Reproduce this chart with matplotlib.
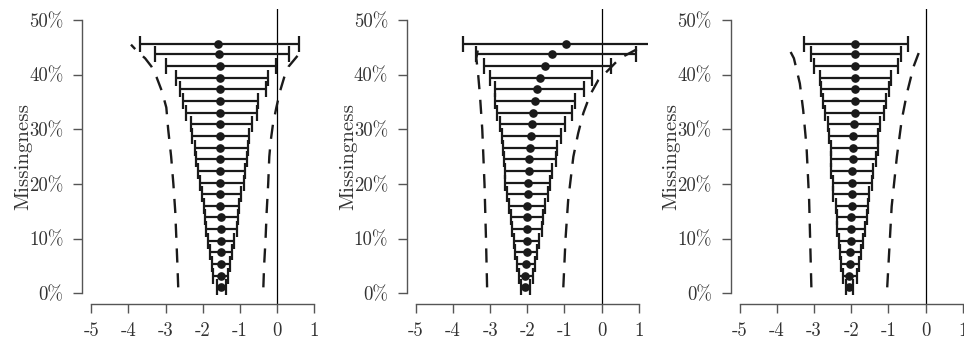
import matplotlib
matplotlib.use('Agg')
import matplotlib.pyplot as plt

plt.rcParams['font.family'] = 'serif'
plt.rcParams['font.serif'] = ['cmr10', 'DejaVu Serif']

# missingness level of each row (%)
rows_y = [45.6, 43.7, 41.6, 39.45, 37.3, 35.2, 33.0, 30.9, 28.8, 26.6, 24.5,
          22.4, 20.2, 18.2, 16.0, 13.9, 11.8, 9.6, 7.5, 5.4, 3.2, 1.1]

# panel 1
est_1 = [-1.58, -1.55, -1.53, -1.53, -1.53, -1.53, -1.53, -1.53, -1.53, -1.53, -1.53,
         -1.53, -1.53, -1.53, -1.53, -1.51, -1.51, -1.51, -1.51, -1.50, -1.50, -1.50]
lo_1 = [-3.70, -3.29, -3.00, -2.72, -2.62, -2.53, -2.46, -2.32, -2.28, -2.21, -2.17,
        -2.12, -2.08, -2.03, -1.97, -1.94, -1.92, -1.85, -1.81, -1.76, -1.72, -1.61]
hi_1 = [0.58, 0.31, -0.03, -0.25, -0.31, -0.52, -0.55, -0.67, -0.76, -0.77, -0.82,
        -0.86, -0.88, -0.97, -1.02, -1.04, -1.09, -1.15, -1.21, -1.27, -1.31, -1.38]
band_lo_y_1 = [1.1, 5, 10, 15, 20, 25, 30, 34, 37, 39.5, 41.5, 43, 44.2, 45.5]
band_lo_x_1 = [-2.66, -2.68, -2.71, -2.74, -2.79, -2.85, -2.93, -2.98, -3.10, -3.24, -3.38, -3.55, -3.75, -3.93]
band_hi_y_1 = [1.1, 5, 10, 15, 20, 25, 28, 31, 34, 37, 39.5, 41.5, 43.3, 44.3]
band_hi_x_1 = [-0.37, -0.35, -0.31, -0.28, -0.24, -0.21, -0.17, -0.11, -0.02, 0.08, 0.19, 0.31, 0.53, 0.67]

# panel 2
est_2 = [-0.96, -1.33, -1.53, -1.67, -1.75, -1.80, -1.84, -1.86, -1.91, -1.92, -1.94,
         -1.96, -1.97, -1.99, -2.00, -2.01, -2.01, -2.01, -2.02, -2.03, -2.05, -2.06]
lo_2 = [-3.73, -3.37, -3.17, -2.99, -2.88, -2.86, -2.81, -2.74, -2.68, -2.65, -2.63,
        -2.61, -2.59, -2.54, -2.50, -2.45, -2.41, -2.36, -2.32, -2.28, -2.23, -2.17]
hi_2 = [1.80, 0.93, 0.24, -0.27, -0.47, -0.72, -0.79, -0.99, -1.10, -1.19, -1.24,
        -1.34, -1.39, -1.43, -1.52, -1.57, -1.59, -1.68, -1.74, -1.80, -1.84, -1.93]
band_lo_y_2 = [1.1, 10, 20, 30, 36, 40, 43, 44.5]
band_lo_x_2 = [-3.08, -3.11, -3.15, -3.21, -3.27, -3.32, -3.37, -3.33]
band_hi_y_2 = [1.1, 10, 17, 25, 29.3, 33, 36.3, 39, 40.5, 43, 44.8]
band_hi_x_2 = [-1.03, -0.97, -0.90, -0.76, -0.63, -0.49, -0.31, -0.09, 0.13, 0.49, 0.99]

# panel 3
est_3 = [-1.90, -1.90, -1.90, -1.90, -1.90, -1.90, -1.90, -1.92, -1.94, -1.95, -1.95,
         -1.97, -1.97, -1.97, -1.99, -2.00, -2.01, -2.01, -2.02, -2.03, -2.05, -2.06]
lo_3 = [-3.26, -3.09, -2.99, -2.84, -2.80, -2.75, -2.71, -2.62, -2.60, -2.55, -2.54,
        -2.53, -2.50, -2.48, -2.42, -2.39, -2.37, -2.32, -2.30, -2.27, -2.23, -2.15]
hi_3 = [-0.46, -0.67, -0.75, -0.93, -0.98, -1.07, -1.11, -1.22, -1.29, -1.29, -1.33,
        -1.40, -1.45, -1.52, -1.56, -1.58, -1.63, -1.69, -1.74, -1.79, -1.83, -1.94]
band_lo_y_3 = [1.1, 17, 26.8, 33.5, 38.4, 43, 45.1]
band_lo_x_3 = [-3.07, -3.13, -3.20, -3.29, -3.38, -3.54, -3.70]
band_hi_y_3 = [1.1, 15.9, 25, 31.7, 36.6, 41.5, 45.1]
band_hi_x_3 = [-1.03, -0.91, -0.77, -0.64, -0.50, -0.32, -0.12]

x_ticks = [-5, -4, -3, -2, -1, 0, 1]
x_labels = ['-5', '-4', '-3', '-2', '-1', '0', '1']
y_ticks = [0, 10, 20, 30, 40, 50]
y_labels = ['0%', '10%', '20%', '30%', '40%', '50%']

panels = [
    (est_1, lo_1, hi_1, band_lo_y_1, band_lo_x_1, band_hi_y_1, band_hi_x_1),
    (est_2, lo_2, hi_2, band_lo_y_2, band_lo_x_2, band_hi_y_2, band_hi_x_2),
    (est_3, lo_3, hi_3, band_lo_y_3, band_lo_x_3, band_hi_y_3, band_hi_x_3),
]

W, H = 964, 343
fig = plt.figure(figsize=(W / 100, H / 100), dpi=100)
lefts = [82.3, 406.8, 730.7]
axis_col = '#555555'
text_col = '#333333'

for left, (est, lo, hi, bly, blx, bhy, bhx) in zip(lefts, panels):
    ax = fig.add_axes([left / W, 38.7 / H, 240.9 / W, 295.2 / H])
    ax.set_xlim(-5.24, 1.24)
    ax.set_ylim(-2, 52)

    ax.axvline(0, color='black', lw=0.9)
    ax.plot(blx, bly, color='#1a1a1a', lw=1.7, ls=(0, (6, 4.5)))
    ax.plot(bhx, bhy, color='#1a1a1a', lw=1.7, ls=(0, (6, 4.5)))

    xerr = [[e - l for e, l in zip(est, lo)], [h - e for e, h in zip(est, hi)]]
    ax.errorbar(est, rows_y, xerr=xerr, fmt='o', color='#1a1a1a', ms=5.2,
                elinewidth=1.6, capsize=5.5, capthick=1.6)

    for s in ['top', 'right']:
        ax.spines[s].set_visible(False)
    ax.spines['left'].set_bounds(0, 50)
    ax.spines['bottom'].set_bounds(-5, 1)
    for s in ['left', 'bottom']:
        ax.spines[s].set_color(axis_col)
        ax.spines[s].set_linewidth(1.0)

    ax.set_xticks(x_ticks)
    ax.set_xticklabels(x_labels)
    ax.set_yticks(y_ticks)
    ax.set_yticklabels(y_labels)
    ax.tick_params(axis='both', direction='out', length=6.5, width=1.0,
                   color=axis_col, labelcolor=text_col, labelsize=13.5)
    ax.tick_params(axis='y', pad=7)
    ax.tick_params(axis='x', pad=6)

    fig.text((left - 59) / W, 1 - 156.7 / H, 'Missingness', rotation=90,
             ha='center', va='center', fontsize=15, color=text_col)

fig.savefig('out.png', dpi=100)
